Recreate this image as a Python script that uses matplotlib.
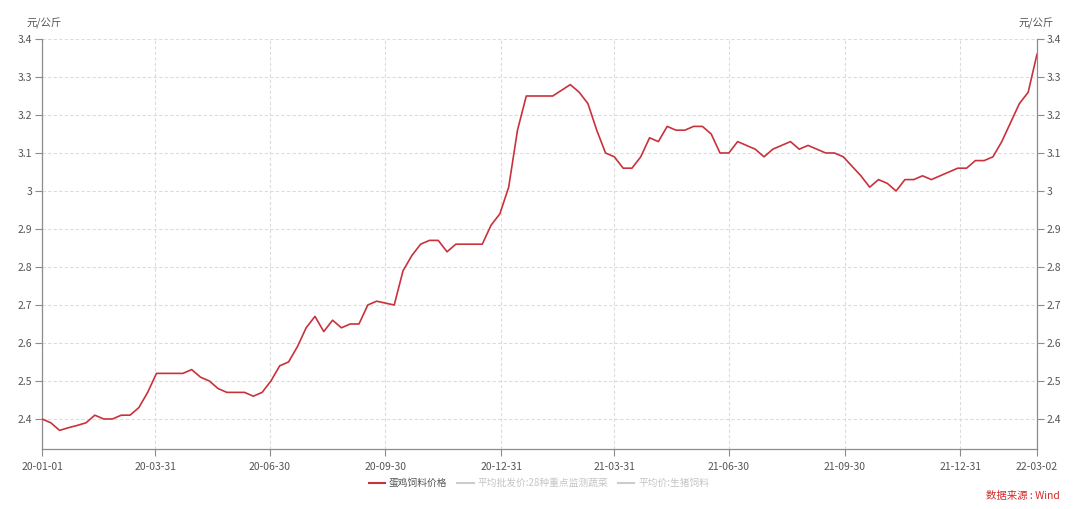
import matplotlib
matplotlib.use("Agg")
import matplotlib.pyplot as plt
import matplotlib.ticker as tick
import matplotlib.dates as mdates
from matplotlib.lines import Line2D
import pandas as pd

plt.rcParams['font.family'] = ['Noto Sans CJK SC', 'DejaVu Sans']

# weekly egg-chicken feed price, 2020-01-01 .. 2022-03-02
start_date = "2020-01-01"
feed_price = [
    2.40, 2.39, 2.37, 2.377, 2.383, 2.39, 2.41, 2.40, 2.40, 2.41,
    2.41, 2.43, 2.47, 2.52, 2.52, 2.52, 2.52, 2.53, 2.51, 2.50,
    2.48, 2.47, 2.47, 2.47, 2.46, 2.47, 2.50, 2.54, 2.55, 2.59,
    2.64, 2.67, 2.63, 2.66, 2.64, 2.65, 2.65, 2.70, 2.71, 2.705,
    2.70, 2.79, 2.83, 2.86, 2.87, 2.87, 2.84, 2.86, 2.86, 2.86,
    2.86, 2.91, 2.94, 3.01, 3.16, 3.25, 3.25, 3.25, 3.25, 3.265,
    3.28, 3.26, 3.23, 3.16, 3.10, 3.09, 3.06, 3.06, 3.09, 3.14,
    3.13, 3.17, 3.16, 3.16, 3.17, 3.17, 3.15, 3.10, 3.10, 3.13,
    3.12, 3.11, 3.09, 3.11, 3.12, 3.13, 3.11, 3.12, 3.11, 3.10,
    3.10, 3.09, 3.065, 3.04, 3.01, 3.03, 3.02, 3.00, 3.03, 3.03,
    3.04, 3.03, 3.04, 3.05, 3.06, 3.06, 3.08, 3.08, 3.09, 3.13,
    3.18, 3.23, 3.26, 3.36,
]
x_tick_dates = ["2020-01-01", "2020-03-31", "2020-06-30", "2020-09-30", "2020-12-31",
                "2021-03-31", "2021-06-30", "2021-09-30", "2021-12-31", "2022-03-02"]
y_ticks = [2.4, 2.5, 2.6, 2.7, 2.8, 2.9, 3.0, 3.1, 3.2, 3.3, 3.4]
y_tick_labels = ["2.4", "2.5", "2.6", "2.7", "2.8", "2.9", "3", "3.1", "3.2", "3.3", "3.4"]
legend_names = ["蛋鸡饲料价格", "平均批发价:28种重点监测蔬菜", "平均价:生猪饲料"]
unit = "元/公斤"
source = "数据来源 : Wind"

dates = pd.date_range(start_date, periods=len(feed_price), freq="7D")
tick_dates = pd.to_datetime(x_tick_dates)

red = "#c8323c"
axis_gray = "#8c8c8c"
text_gray = "#555555"

fig = plt.figure(figsize=(10.8, 5.09), dpi=100)
ax = fig.add_axes([42 / 1080, 60 / 509, 995 / 1080, 410 / 509])

ax.plot(dates, feed_price, color=red, lw=1.2, zorder=3)

ax.set_xlim(tick_dates[0], tick_dates[-1])
ax.set_ylim(2.321, 3.4)

# ticks and grid
ax.xaxis.set_major_locator(tick.FixedLocator(mdates.date2num(tick_dates)))
ax.set_xticklabels([d.strftime("%y-%m-%d") for d in tick_dates])
ax.yaxis.set_major_locator(tick.FixedLocator(y_ticks))
ax.set_yticklabels(y_tick_labels)
ax.grid(True, color="#dcdcdc", ls=(0, (3, 2)), lw=0.8, zorder=0)
ax.tick_params(axis="both", colors=axis_gray, labelcolor=text_gray, labelsize=7.5,
               length=5, width=0.8, direction="out", pad=2)
ax.tick_params(axis="x", pad=4)

for side in ["top", "right"]:
    ax.spines[side].set_visible(False)
for side in ["left", "bottom"]:
    ax.spines[side].set_color(axis_gray)
    ax.spines[side].set_linewidth(0.9)

# right axis mirrors the left one
ax2 = ax.twinx()
ax2.set_ylim(ax.get_ylim())
ax2.yaxis.set_major_locator(tick.FixedLocator(y_ticks))
ax2.set_yticklabels(y_tick_labels)
ax2.tick_params(axis="y", colors=axis_gray, labelcolor=text_gray, labelsize=7.5,
                length=5, width=0.8, direction="out", pad=2)
for side in ["top", "left", "bottom"]:
    ax2.spines[side].set_visible(False)
ax2.spines["right"].set_color(axis_gray)
ax2.spines["right"].set_linewidth(0.9)

# units
fig.text(26 / 1080, 1 - 23 / 509, unit, fontsize=7.5, color=text_gray, va="center", ha="left")
fig.text(1054 / 1080, 1 - 23 / 509, unit, fontsize=7.5, color=text_gray, va="center", ha="right")

# legend (other two series are toggled off)
handles = [Line2D([], [], color=red, lw=1.5),
           Line2D([], [], color="#cccccc", lw=1.5),
           Line2D([], [], color="#cccccc", lw=1.5)]
leg = fig.legend(handles, legend_names, loc="center", bbox_to_anchor=(0.499, 1 - 483 / 509),
                 ncol=3, frameon=False, fontsize=7, handlelength=1.7, handletextpad=0.4,
                 columnspacing=1.0)
for txt, c in zip(leg.get_texts(), [text_gray, "#c4c4c4", "#c4c4c4"]):
    txt.set_color(c)

fig.text(1060 / 1080, 1 - 496 / 509, source, fontsize=7.5, color="#d22a2a", ha="right", va="center")

fig.savefig("out.png", dpi=100)
